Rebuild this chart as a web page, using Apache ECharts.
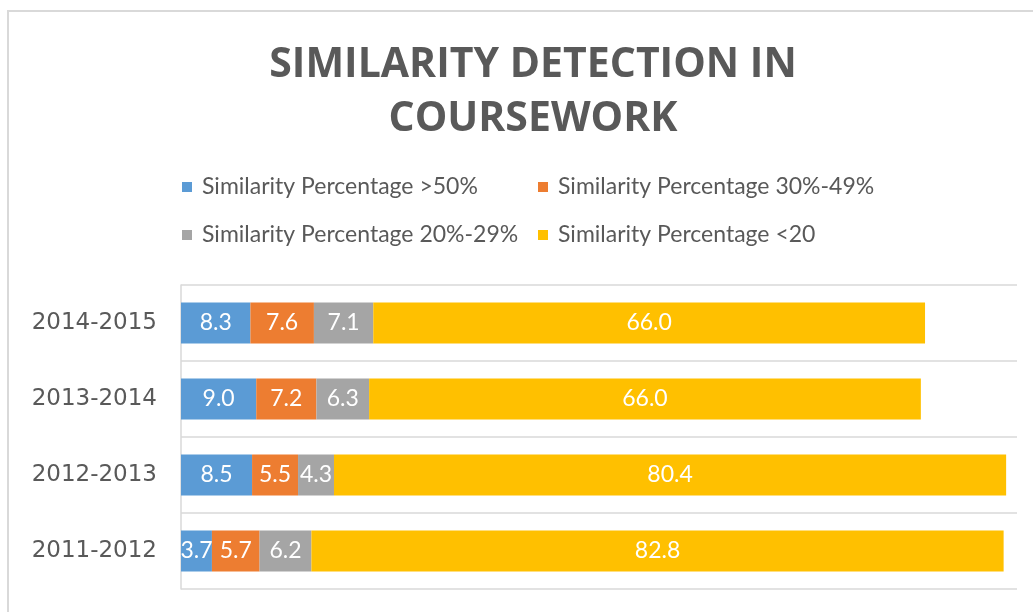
<!DOCTYPE html>
<html>
<head>
<meta charset="utf-8">
<title>Similarity Detection in Coursework</title>
<script src="https://cdn.jsdelivr.net/npm/echarts@6/dist/echarts.min.js"></script>
<style>
    html, body { margin: 0; padding: 0; background: #fff; }
    #main { width: 1033px; height: 612px; }
</style>
</head>
<body>
<div id="main"></div>
<script>
// 数据（从下到上）
let years = ['2011-2012', '2012-2013', '2013-2014', '2014-2015'];
let seriesNames = [
    'Similarity Percentage >50%',
    'Similarity Percentage 30%-49%',
    'Similarity Percentage 20%-29%',
    'Similarity Percentage <20'
];
let above50 = [3.7, 8.5, 9.0, 8.3];
let from30to49 = [5.7, 5.5, 7.2, 7.6];
let from20to29 = [6.2, 4.3, 6.3, 7.1];
let below20 = [82.8, 80.4, 66.0, 66.0];

let colors = ['#5B9BD5', '#ED7D31', '#A5A5A5', '#FFC000'];
let textColor = '#595959';
let lineColor = '#D9D9D9';

let barSeries = function(name, data) {
    return {
        name: name,
        type: 'bar',
        stack: 'total',
        barWidth: 41,
        data: data,
        label: {
            show: true,
            position: 'inside',
            color: '#fff',
            fontFamily: 'Lato',
            fontSize: 23,
            formatter: function (p) {
                return p.value.toFixed(1);
            }
        }
    };
};

let legendText = {
    color: textColor,
    fontFamily: 'Lato',
    fontSize: 23,
    lineHeight: 26,
    padding: [0, 0, 0, 5]
};

let option = {
    color: colors,
    animation: false,
    title: {
        text: 'SIMILARITY DETECTION IN\nCOURSEWORK',
        left: 528,
        top: 33,
        textAlign: 'center',
        textStyle: {
            color: textColor,
            fontFamily: 'Open Sans',
            fontWeight: 'bold',
            fontSize: 41,
            lineHeight: 54
        }
    },
    legend: [
        {
            orient: 'vertical',
            left: 177,
            top: 169,
            itemWidth: 10,
            itemHeight: 10,
            itemGap: 22,
            icon: 'rect',
            data: [seriesNames[0], seriesNames[2]],
            textStyle: legendText
        },
        {
            orient: 'vertical',
            left: 533,
            top: 169,
            itemWidth: 10,
            itemHeight: 10,
            itemGap: 22,
            icon: 'rect',
            data: [seriesNames[1], seriesNames[3]],
            textStyle: legendText
        }
    ],
    grid: {
        left: 181,
        right: 16,
        top: 285,
        bottom: 23
    },
    xAxis: {
        type: 'value',
        min: 0,
        max: 100,
        axisLabel: { show: false },
        axisLine: { show: false },
        axisTick: { show: false },
        splitLine: { show: false }
    },
    yAxis: {
        type: 'category',
        data: years,
        axisLine: { show: true, lineStyle: { color: lineColor, width: 1.5 } },
        axisTick: { show: false },
        splitLine: { show: true, lineStyle: { color: lineColor, width: 1.5 } },
        axisLabel: {
            color: textColor,
            fontFamily: 'DejaVu Sans',
            fontSize: 23,
            margin: 24
        }
    },
    graphic: [
        {
            type: 'rect',
            silent: true,
            shape: { x: 8, y: 11, width: 2000, height: 2000 },
            style: { fill: 'none', stroke: lineColor, lineWidth: 2 }
        }
    ],
    series: [
        barSeries(seriesNames[0], above50),
        barSeries(seriesNames[1], from30to49),
        barSeries(seriesNames[2], from20to29),
        barSeries(seriesNames[3], below20)
    ]
};

let chart = echarts.init(document.getElementById('main'));
chart.setOption(option);
</script>
</body>
</html>
